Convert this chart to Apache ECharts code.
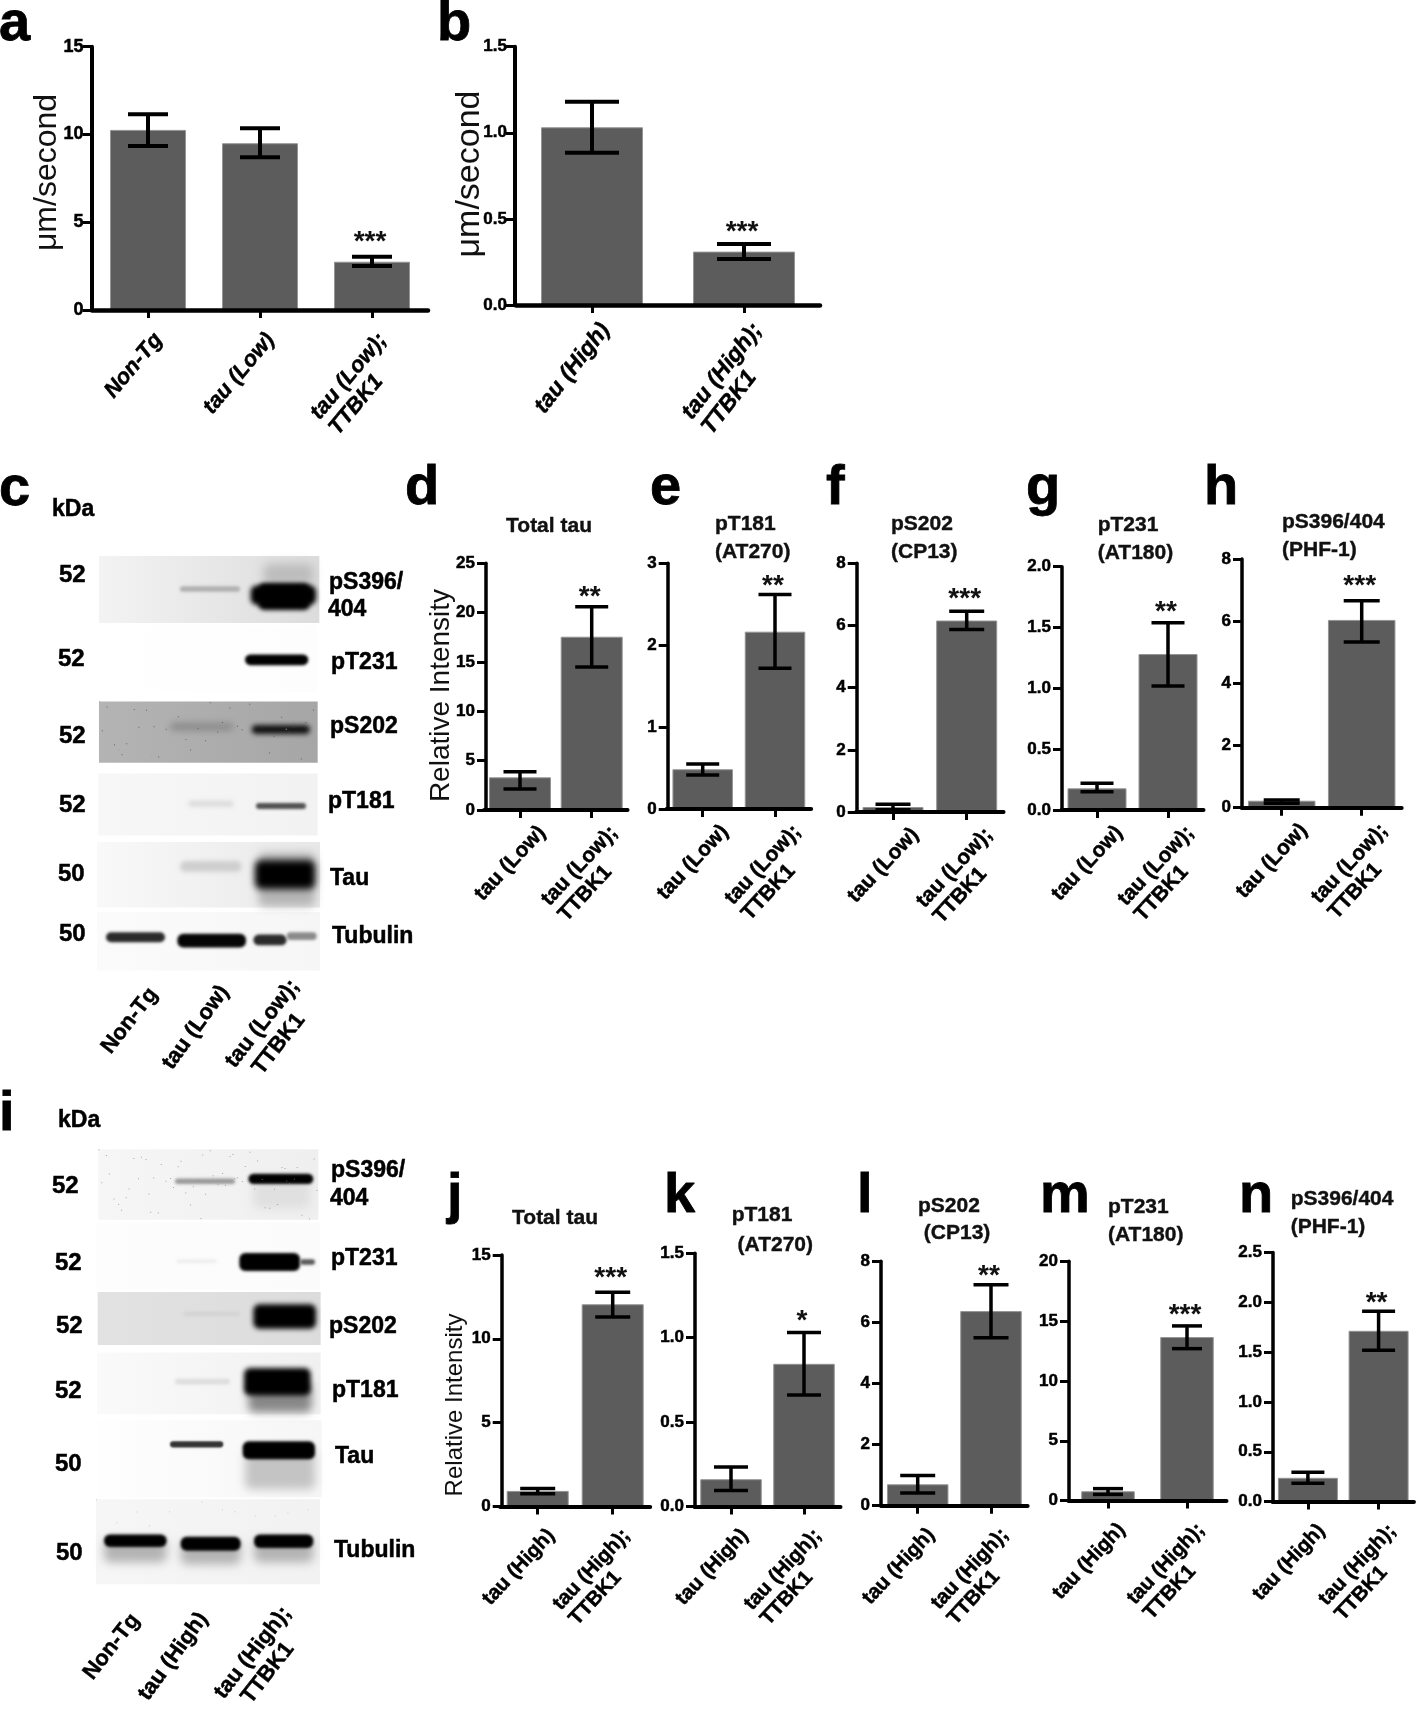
<!DOCTYPE html>
<html><head><meta charset="utf-8">
<style>html,body{margin:0;padding:0;background:#fff}#c{width:1418px;height:1710px}</style>
<script src="https://cdn.jsdelivr.net/npm/echarts@6/dist/echarts.min.js"></script>
</head><body><div id="c"></div>
<script>
// ---------- categories ----------
const catsLow3=['Non-Tg','tau (Low)','tau (Low);\nTTBK1'];
const catsHigh2=['tau (High)','tau (High);\nTTBK1'];
const catsLow2=['tau (Low)','tau (Low);\nTTBK1'];
// ---------- values: mean, lower and upper error-bar ends, significance ----------
const aMean=[10.26,9.5,2.75],aLo=[9.34,8.7,2.5],aHi=[11.15,10.36,3.04],aSig=['','','***'];
const bMean=[1.032,0.31],bLo=[0.884,0.267],bHi=[1.18,0.354],bSig=['','***'];
const dMean=[3.31,17.56],dLo=[2.13,14.5],dHi=[3.88,20.6],dSig=['','**'];
const eMean=[0.485,2.165],eLo=[0.415,1.72],eHi=[0.55,2.62],eSig=['','**'];
const fMean=[0.16,6.16],fLo=[0.07,5.87],fHi=[0.25,6.46],fSig=['','***'];
const gMean=[0.178,1.282],gLo=[0.15,1.02],gHi=[0.219,1.54],gSig=['','**'];
const hMean=[0.225,6.04],hLo=[0.14,5.33],hHi=[0.25,6.66],hSig=['','***'];
const jMean=[0.925,12.06],jLo=[0.76,11.3],jHi=[1.07,12.78],jSig=['','***'];
const kMean=[0.161,0.845],kLo=[0.094,0.66],kHi=[0.233,1.03],kSig=['','*'];
const lMean=[0.70,6.37],lLo=[0.417,5.5],lHi=[0.99,7.23],lSig=['','**'];
const mMean=[0.78,13.67],mLo=[0.52,12.7],mHi=[1.0,14.6],mSig=['','***'];
const nMean=[0.239,1.715],nLo=[0.183,1.52],nHi=[0.294,1.91],nSig=['','**'];

const F='"Liberation Sans"';
// ---------- layout of each bar panel (not data) ----------
const panels=[
 {cats:catsLow3,mean:aMean,lo:aLo,hi:aHi,sig:aSig,max:15,step:5,dec:0,ax:91.5,top:46.7,bot:310,c:[148,260,372],bw:76,cap:40,gap:18,tf:18,tm:8,lf:22,rot:50,it:true,name:'μm/second',nf:32,nx:47,ny:172.5,lw:4,m:20,p:2},
 {cats:catsHigh2,mean:bMean,lo:bLo,hi:bHi,sig:bSig,max:1.5,step:0.5,dec:1,ax:515,top:46.7,bot:305,c:[592,744],bw:102,cap:54,gap:16,tf:17,tm:8,lf:23,rot:52,it:true,name:'μm/second',nf:34,nx:470,ny:174,lw:4,m:18,p:6},
 {cats:catsLow2,mean:dMean,lo:dLo,hi:dHi,sig:dSig,max:25,step:5,dec:0,ax:486,top:563.3,bot:810,c:[520,591.7],bw:62,cap:33,gap:13,lf:21,name:'Relative Intensity',nf:28,nx:441.7,ny:695.5,lw:3.5,m:26,p:20},
 {cats:catsLow2,mean:eMean,lo:eLo,hi:eHi,sig:eSig,max:3,step:1,dec:0,ax:667.7,top:563.3,bot:809,c:[702.7,775],bw:60.5,cap:33,gap:12,lf:21,lw:3.5,m:26,p:20},
 {cats:catsLow2,mean:fMean,lo:fLo,hi:fHi,sig:fSig,max:8,step:2,dec:0,ax:856.7,top:563.3,bot:812,c:[893,966.7],bw:61,cap:35,gap:16,lf:21,lw:3.5,m:26,p:20},
 {cats:catsLow2,mean:gMean,lo:gLo,hi:gHi,sig:gSig,max:2,step:0.5,dec:1,ax:1062,top:566.7,bot:810,c:[1097,1168],bw:59,cap:33,gap:14,lf:21,lw:3.5,m:26,p:20},
 {cats:catsLow2,mean:hMean,lo:hLo,hi:hHi,sig:hSig,max:8,step:2,dec:0,ax:1242,top:559,bot:807.7,c:[1281.7,1361.7],bw:67.5,cap:36,gap:18,lf:21,lw:3.5,m:26,p:20},
 {cats:catsHigh2,mean:jMean,lo:jLo,hi:jHi,sig:jSig,max:15,step:5,dec:0,ax:501.7,top:1255,bot:1506.4,c:[537.7,612.7],bw:62,cap:35,gap:18,lf:20.5,name:'Relative Intensity',nf:24,nx:455.7,ny:1405,lw:3.5,m:24,p:8},
 {cats:catsHigh2,mean:kMean,lo:kLo,hi:kHi,sig:kSig,max:1.5,step:0.5,dec:1,ax:695,top:1253.3,bot:1506.4,c:[731,804],bw:61.5,cap:34,gap:15,lf:20.5,lw:3.5,m:24,p:8},
 {cats:catsHigh2,mean:lMean,lo:lLo,hi:lHi,sig:lSig,max:8,step:2,dec:0,ax:881,top:1261.3,bot:1505.7,c:[917.7,991],bw:61.5,cap:35,gap:13,lf:20.5,lw:3.5,m:24,p:8},
 {cats:catsHigh2,mean:mMean,lo:mLo,hi:mHi,sig:mSig,max:20,step:5,dec:0,ax:1069,top:1261.3,bot:1500.6,c:[1108,1187],bw:53.5,cap:30,gap:15,lf:20.5,lw:3.5,m:24,p:8},
 {cats:catsHigh2,mean:nMean,lo:nLo,hi:nHi,sig:nSig,max:2.5,step:0.5,dec:1,ax:1273,top:1252.6,bot:1501.6,c:[1308.7,1381],bw:60,cap:33,gap:12,lf:20.5,lw:3.5,m:24,p:8}
];
// chart titles: text, x, y centre of the first line, line height, centred?
const titles=[
 ['Total tau',549,526,28,true],['pT181\n(AT270)',715,524,28],['pS202\n(CP13)',891,524,28],
 ['pT231\n(AT180)',1097.7,525,28],['pS396/404\n(PHF-1)',1282,522,28],
 ['Total tau',555,1218,28,true],['pT181\n (AT270)',731.7,1214.8,30],['pS202\n (CP13)',918,1206,27.5],
 ['pT231\n(AT180)',1108,1207,28],['pS396/404\n(PHF-1)',1290.7,1199,28]
];
// panel letters: letter, x, baseline
const letters=[['a',-1,41.7],['b',437,41.7],['c',-1,506],['d',405,505],['e',650,505],['f',826,505],['g',1026,505],['h',1204,505],
 ['i',-1,1131],['j',447,1213],['k',664,1213],['l',857,1213],['m',1040,1213],['n',1239,1213]];
const kdaC=['52','52','52','52','50','50'], kdaI=['52','52','52','52','50','50'];

// ---------- build the bar panels ----------
const grid=[],xAxis=[],yAxis=[],series=[],title=[],elements=[];
panels.forEach((p,i)=>{
 const st=p.c[1]-p.c[0], left=p.c[0]-st/2, n=p.cats.length;
 grid.push({left:left,top:p.top,width:st*n,height:p.bot-p.top,containLabel:false});
 const shift=p.ny!==undefined?(p.top+p.bot)/2-p.ny:0;
 yAxis.push({gridIndex:i,type:'value',z:5,min:0,max:p.max,interval:p.step,offset:left-p.ax,
  splitLine:{show:false},axisLine:{show:true,onZero:false,lineStyle:{color:'#000',width:p.lw}},
  axisTick:{show:true,length:9,lineStyle:{color:'#000',width:3}},
  axisLabel:{show:true,margin:p.tm||11,color:'#000',fontFamily:F,fontWeight:'bold',fontSize:p.tf||17,showMinLabel:true,showMaxLabel:true,
   textBorderColor:'#000',textBorderWidth:0.5,formatter:(v)=>Number(v).toFixed(p.dec)},
  name:p.name||'',nameLocation:'middle',nameGap:p.name?p.ax-p.nx-p.nf/2:0,nameRotate:90,nameMoveOverlap:false,
  nameTextStyle:{fontFamily:F,fontSize:p.nf||12,color:'#111',padding:shift>0?[0,0,0,2*shift]:[0,-2*shift,0,0]}});
 const ls={fontFamily:F,fontWeight:'bold',fontStyle:p.it?'italic':'normal',fontSize:p.lf,color:'#000',textBorderColor:'#000',textBorderWidth:0.5};
 const tok=Object.assign({align:'left',lineHeight:p.lf+2},ls);
 xAxis.push({gridIndex:i,type:'category',z:5,data:p.cats,axisLine:{show:true,onZero:false,lineStyle:{color:'#000',width:p.lw+0.5}},
  axisTick:{show:true,alignWithLabel:true,length:8,lineStyle:{color:'#000',width:3}},splitLine:{show:false},
  axisLabel:Object.assign({show:true,interval:0,hideOverlap:false,rotate:p.rot||47,margin:p.m,align:'right',verticalAlign:'top',padding:[0,-p.p,0,0],
   formatter:(v)=>v.split('\n').map(s=>'{s|'+s+'}').join('\n'),rich:{s:tok}},ls)});
 series.push({type:'bar',xAxisIndex:i,yAxisIndex:i,data:p.mean,barWidth:p.bw,silent:true,z:2,
  itemStyle:{color:'#5c5c5c',borderColor:'#949494',borderWidth:1}});
 series.push({type:'custom',xAxisIndex:i,yAxisIndex:i,silent:true,z:6,clip:false,
  data:p.cats.map((c,k)=>[k,p.lo[k],p.hi[k]]),encode:{x:0,y:[1,2]},
  renderItem:(params,api)=>{
   const k=params.dataIndex,hi=api.coord([k,api.value(2)]),lo=api.coord([k,api.value(1)]),x=hi[0],s=p.lw,c=p.cap/2;
   const line=(a,b,d,e)=>({type:'line',shape:{x1:a,y1:b,x2:d,y2:e},style:{stroke:'#000',lineWidth:s}});
   const ch=[line(x,hi[1],x,lo[1]),line(x-c,hi[1],x+c,hi[1]),line(x-c,lo[1],x+c,lo[1])];
   if(p.sig[k])ch.push({type:'text',style:{text:p.sig[k],x:x-2,y:hi[1]-p.gap+4,textAlign:'center',textVerticalAlign:'middle',
    align:'center',verticalAlign:'middle',fill:'#111',font:'bold 28px '+F}});
   return {type:'group',children:ch};
  }});
});
titles.forEach(t=>title.push({text:t[0],left:t[1],top:t[2]-t[3]/2,padding:0,textAlign:t[4]?'center':'left',
 textStyle:{fontFamily:F,fontWeight:'bold',fontSize:21,lineHeight:t[3],color:'#111',textBorderColor:'#111',textBorderWidth:0.4}}));

// ---------- free text helper ----------
const txt=(s,x,y,size,o={})=>({type:'text',x:x,y:y,rotation:(o.deg||0)*Math.PI/180,silent:true,z:20,
 style:{text:s,fill:'#000',stroke:'#000',lineWidth:o.sw===undefined?0.5:o.sw,font:(o.w||'bold')+' '+size+'px '+F,align:o.a||'left',textAlign:o.a||'left',verticalAlign:'middle',textVerticalAlign:'middle'}});
letters.forEach(l=>elements.push(txt(l[0],l[1],l[2]-0.30*56,56,{sw:0.8})));

// ---------- western blot pictures, soft shapes drawn as offset shadows ----------
const OFF=4000;
function blot(ox,oy,sx,sy,rows,bands,specks){
 rows.forEach(r=>elements.push({type:'rect',silent:true,z:1,shape:{x:ox+r[0]/sx,y:oy+r[2]/sy,width:(r[1]-r[0])/sx,height:(r[3]-r[2])/sy},
  style:{fill:new echarts.graphic.LinearGradient(0,0,1,0,[{offset:0,color:r[4]},{offset:1,color:r[5]}])}}));
 bands.forEach(b=>elements.push({type:'rect',silent:true,z:2,
  shape:{x:ox+b[0]/sx-OFF,y:oy+b[2]/sy,width:(b[1]-b[0])/sx,height:(b[3]-b[2])/sy,r:Math.min((b[3]-b[2])/sy/2,6)},
  style:{fill:b[4],shadowColor:b[4],shadowBlur:b[5],shadowOffsetX:OFF}}));
 specks.forEach(s=>{for(let i=0;i<s[5];i++){
   const fx=(i*0.618034)%1,fy=(i*i*0.0371+i*0.37)%1;
   elements.push({type:'rect',silent:true,z:3,shape:{x:ox+(s[0]+fx*(s[1]-s[0]))/sx,y:oy+(s[2]+fy*(s[3]-s[2]))/sy,width:1,height:1},style:{fill:s[4],opacity:0.7}});
 }});
}
blot(0,470,3,2.613,
 [[297,958,225,400,'#f3f3f3','#dcdcdc'],[300,950,405,580,'#ffffff','#fdfdfd'],[297,953,605,765,'#b4b4b4','#a6a6a6'],
  [295,953,793,955,'#f7f7f7','#f2f2f2'],[291,960,972,1143,'#f9f9f9','#e8e8e8'],[291,960,1155,1308,'#fbfbfb','#f6f6f6']],
 [[790,940,245,300,'#bdbdbd',10],[540,720,304,318,'#b0b0b0',3],[752,948,302,352,'#000',5],[775,930,296,366,'#000',4],
  [735,925,482,510,'#000',3],
  [510,700,660,682,'#8e8e8e',6],[755,930,666,690,'#111',5],
  [565,700,864,880,'#dcdcdc',4],[768,918,870,886,'#4f4f4f',3],
  [540,725,1022,1050,'#cfcfcf',4],[775,945,1000,1140,'#b5b5b5',8],[765,945,1020,1095,'#000',7],
  [318,495,1208,1234,'#2a2a2a',3],[532,738,1212,1248,'#050505',3],[760,860,1214,1242,'#2a2a2a',3],[860,950,1208,1228,'#8a8a8a',3]],
 [[297,953,605,765,'#444',40],[297,953,605,765,'#e4e4e4',8]]);
blot(0,1090,3,2.529,
 [[295,955,150,328,'#f6f6f6','#efefef'],[290,960,335,505,'#fdfdfd','#fbfbfb'],[293,962,511,645,'#e2e2e2','#dcdcdc'],
  [291,962,664,820,'#fafafa','#f0f0f0'],[295,965,835,1030,'#fefefe','#f6f6f6'],[288,960,1035,1250,'#f6f6f6','#f2f2f2']],
 [[525,705,224,238,'#9a9a9a',3],[760,930,225,300,'#e0e0e0',10],[745,940,212,238,'#000',3],
  [530,650,428,438,'#eeeeee',3],[718,900,412,458,'#000',3],[900,945,428,442,'#555',3],
  [550,720,560,572,'#d4d4d4',3],[760,948,542,604,'#000',5],
  [525,690,730,745,'#dedede',3],[745,935,740,815,'#888',8],[732,932,703,772,'#000',5],
  [510,670,888,904,'#333',2],[735,945,910,1010,'#c4c4c4',10],[728,945,888,934,'#000',3],
  [312,500,1135,1195,'#b4b4b4',10],[542,722,1140,1200,'#b4b4b4',10],[762,940,1135,1195,'#b4b4b4',10],
  [312,500,1124,1156,'#000',3],[542,722,1130,1165,'#000',3],[762,940,1124,1158,'#000',3]],
 [[295,955,150,328,'#888',60],[288,960,1035,1110,'#bbb',12]]);

// ---------- blot annotations ----------
elements.push(txt('kDa',52,510,23));
const yC=[575,659.5,736,805,874,934];
kdaC.forEach((s,i)=>elements.push(txt(s,[59,58,59,59,58,59][i],yC[i],24)));
[['pS396/',329,583],['404',328,610],['pT231',331,663],['pS202',330,727],['pT181',328,802],['Tau',330,879],['Tubulin',332,937]]
 .forEach(r=>elements.push(txt(r[0],r[1],r[2],23)));
[['Non-Tg',106,1051,52],['tau (Low)',167,1067,54],['tau (Low);',230,1065,52],['TTBK1',257,1072,52]]
 .forEach(r=>elements.push(txt(r[0],r[1],r[2],22,{deg:r[3]})));
elements.push(txt('kDa',58,1121,23));
const yI=[1186,1263,1326,1391,1464.5,1553], xI=[52,55,56,55,55,56];
kdaI.forEach((s,i)=>elements.push(txt(s,xI[i],yI[i],24)));
[['pS396/',331,1171],['404',330,1199],['pT231',331,1259],['pS202',329,1327],['pT181',332,1390.5],['Tau',335,1456.5],['Tubulin',334,1551]]
 .forEach(r=>elements.push(txt(r[0],r[1],r[2],23)));
[['Non-Tg',88,1677,52],['tau (High)',143,1698,54],['tau (High);',219,1696,52],['TTBK1',246,1701,52]]
 .forEach(r=>elements.push(txt(r[0],r[1],r[2],22,{deg:r[3]})));

const chart=echarts.init(document.getElementById('c'),null,{renderer:'canvas'});
chart.setOption({animation:false,backgroundColor:'#fff',title,grid,xAxis,yAxis,series,graphic:{elements}});
</script></body></html>
